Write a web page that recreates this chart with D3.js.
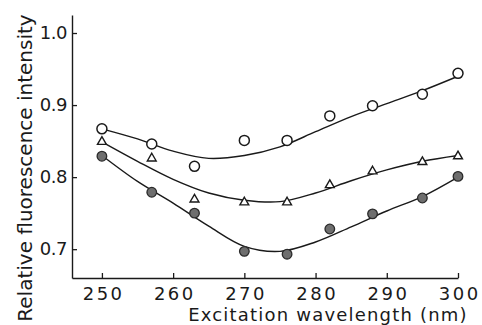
<!DOCTYPE html>
<html>
<head>
<meta charset="utf-8">
<script src="https://cdn.jsdelivr.net/npm/d3@7"></script>
<style>
  html, body { margin: 0; padding: 0; background: #ffffff; }
  svg { display: block; }
  text { font-family: "DejaVu Sans", sans-serif; fill: #1a1a1a; }
</style>
</head>
<body>
<svg id="chart" width="482" height="325"></svg>
<script>
// Excitation wavelengths (nm) at which intensity was measured
const wavelengths = [250, 257, 263, 270, 276, 282, 288, 295, 300];

// Measured relative fluorescence intensity, three samples
const openCircles = [0.867, 0.846, 0.815, 0.851, 0.851, 0.885, 0.899, 0.915, 0.944];
const triangles   = [0.849, 0.826, 0.769, 0.765, 0.765, 0.789, 0.808, 0.821, 0.829];
const filledDots  = [0.829, 0.779, 0.750, 0.697, 0.693, 0.728, 0.749, 0.771, 0.801];

// Smoothed fit curves, sampled every 5 nm
const fitWavelengths = [250, 255, 260, 265, 270, 275, 280, 285, 290, 295, 300];
const fitOpen   = [0.867, 0.853, 0.836, 0.826, 0.830, 0.842, 0.863, 0.884, 0.902, 0.920, 0.940];
const fitTri    = [0.849, 0.822, 0.797, 0.778, 0.768, 0.766, 0.778, 0.795, 0.810, 0.822, 0.830];
const fitFilled = [0.830, 0.794, 0.764, 0.732, 0.704, 0.697, 0.710, 0.731, 0.753, 0.773, 0.800];

// Axis ticks
const xTicks = [250, 260, 270, 280, 290, 300];
const yTicks = [0.7, 0.8, 0.9, 1.0];

const svg = d3.select("#chart");
const ink = "#1a1a1a";

const x = d3.scaleLinear().domain([245.8, 300]).range([72, 458]);
const y = d3.scaleLinear().domain([0.66, 1.025]).range([278, 15]);

// Axes with inward ticks
const xAxis = d3.axisBottom(x).tickValues(xTicks).tickFormat(d3.format("d"))
  .tickSizeInner(-5).tickSizeOuter(0).tickPadding(9);
const yAxis = d3.axisLeft(y).tickValues(yTicks).tickFormat(d3.format(".1f"))
  .tickSizeInner(-5).tickSizeOuter(0).tickPadding(5);

const gx = svg.append("g").attr("transform", `translate(0,${y.range()[0]})`).call(xAxis);
const gy = svg.append("g").attr("transform", `translate(${x.range()[0]},0)`).call(yAxis);

[gx, gy].forEach(g => {
  g.select(".domain").attr("stroke", ink).attr("stroke-width", 1.4);
  g.selectAll(".tick line").attr("stroke", ink).attr("stroke-width", 1.3);
  g.selectAll(".tick text").attr("font-size", 18).attr("fill", ink)
    .style("font-family", "'DejaVu Sans', sans-serif");
});
gx.selectAll(".tick text").attr("letter-spacing", 2.5).attr("dx", 1.2);
gy.selectAll(".tick text").attr("letter-spacing", -0.5);

// Axis titles
svg.append("text")
  .attr("x", 328).attr("y", 321)
  .attr("text-anchor", "middle")
  .attr("font-size", 18)
  .attr("letter-spacing", 1.2)
  .text("Excitation wavelength (nm)");

svg.append("text")
  .attr("transform", "translate(32,168) rotate(-90)")
  .attr("text-anchor", "middle")
  .attr("font-size", 20)
  .text("Relative fluorescence intensity");

// Fit curves
const line = d3.line()
  .x(d => x(d[0]))
  .y(d => y(d[1]))
  .curve(d3.curveCatmullRom.alpha(0.5));

[fitOpen, fitTri, fitFilled].forEach(vals => {
  svg.append("path")
    .datum(fitWavelengths.map((w, i) => [w, vals[i]]))
    .attr("fill", "none")
    .attr("stroke", ink)
    .attr("stroke-width", 1.4)
    .attr("d", line);
});

// Markers
const ptsOpen = wavelengths.map((w, i) => [w, openCircles[i]]);
const ptsTri = wavelengths.map((w, i) => [w, triangles[i]]);
const ptsFilled = wavelengths.map((w, i) => [w, filledDots[i]]);

svg.append("g").selectAll("circle").data(ptsOpen).join("circle")
  .attr("cx", d => x(d[0])).attr("cy", d => y(d[1])).attr("r", 5)
  .attr("fill", "#ffffff").attr("stroke", ink).attr("stroke-width", 1.5);

const tri = d3.symbol().type(d3.symbolTriangle).size(34);
svg.append("g").selectAll("path").data(ptsTri).join("path")
  .attr("transform", d => `translate(${x(d[0])},${y(d[1])})`)
  .attr("d", tri)
  .attr("fill", "#ffffff").attr("stroke", ink).attr("stroke-width", 1.4);

svg.append("g").selectAll("circle").data(ptsFilled).join("circle")
  .attr("cx", d => x(d[0])).attr("cy", d => y(d[1])).attr("r", 4.8)
  .attr("fill", "#6e6e6e").attr("stroke", "#2a2a2a").attr("stroke-width", 1.3);
</script>
</body>
</html>
